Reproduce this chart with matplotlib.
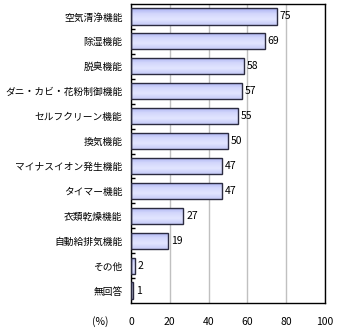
import matplotlib
matplotlib.use("Agg")
import matplotlib.pyplot as plt
import numpy as np
from matplotlib.patches import Rectangle
from matplotlib.colors import LinearSegmentedColormap

plt.rcParams['font.family'] = ['Noto Sans CJK JP', 'DejaVu Sans']

categories = ["空気清浄機能", "除湿機能", "脱臭機能", "ダニ・カビ・花粉制御機能",
              "セルフクリーン機能", "換気機能", "マイナスイオン発生機能", "タイマー機能",
              "衣類乾燥機能", "自動給排気機能", "その他", "無回答"]
values = [75, 69, 58, 57, 55, 50, 47, 47, 27, 19, 2, 1]
xticks = [0, 20, 40, 60, 80, 100]

fig = plt.figure(figsize=(3.4, 3.35), dpi=100)
ax = fig.add_axes([131/340, 1-303/335, (325-131)/340, (303-4)/335])

n = len(categories)
ypos = np.arange(n)
h = 0.65
cmap = LinearSegmentedColormap.from_list("g", ["#a9b1f2", "#d3d7fc", "#e2e5ff", "#c6cbf8"])
grad = np.linspace(0, 1, 64).reshape(-1, 1)

bars = ax.barh(ypos, values, height=h, color="none", edgecolor="#2b2b40", linewidth=1.0, zorder=3)
for b in bars:
    x0, y0 = b.get_x(), b.get_y()
    w, hh = b.get_width(), b.get_height()
    im = ax.imshow(grad, cmap=cmap, aspect="auto", extent=[x0, x0 + w, y0 + hh, y0],
                   origin="upper", zorder=2, interpolation="bilinear")
    rect = Rectangle((x0, y0), w, hh, transform=ax.transData, facecolor="none", edgecolor="none")
    ax.add_patch(rect)
    im.set_clip_path(rect)

for y, v in zip(ypos, values):
    ax.text(v + 1.5, y, str(v), va="center", ha="left", fontsize=7.5, color="#000000")

ax.set_xlim(0, 100)
ax.set_ylim(n - 0.5, -0.5)
ax.set_yticks(ypos)
ax.set_yticklabels(categories, fontsize=7.0)
ax.set_yticks(np.arange(n - 1) + 0.5, minor=True)
ax.tick_params(axis="y", which="major", length=0, pad=6)
ax.tick_params(axis="y", which="minor", length=3, direction="in", width=1)
ax.set_xticks(xticks)
ax.set_xticklabels([str(t) for t in xticks], fontsize=7.5)
ax.tick_params(axis="x", length=0, pad=10)
ax.grid(axis="x", color="#c0c0c0", linewidth=1.0, zorder=0)
ax.set_axisbelow(True)
for s in ax.spines.values():
    s.set_color("black")
    s.set_linewidth(1.0)

fig.text(100/340, 1-322/335, "(%)", fontsize=7.5, ha="center", va="center")

fig.savefig("out.png", dpi=100)
